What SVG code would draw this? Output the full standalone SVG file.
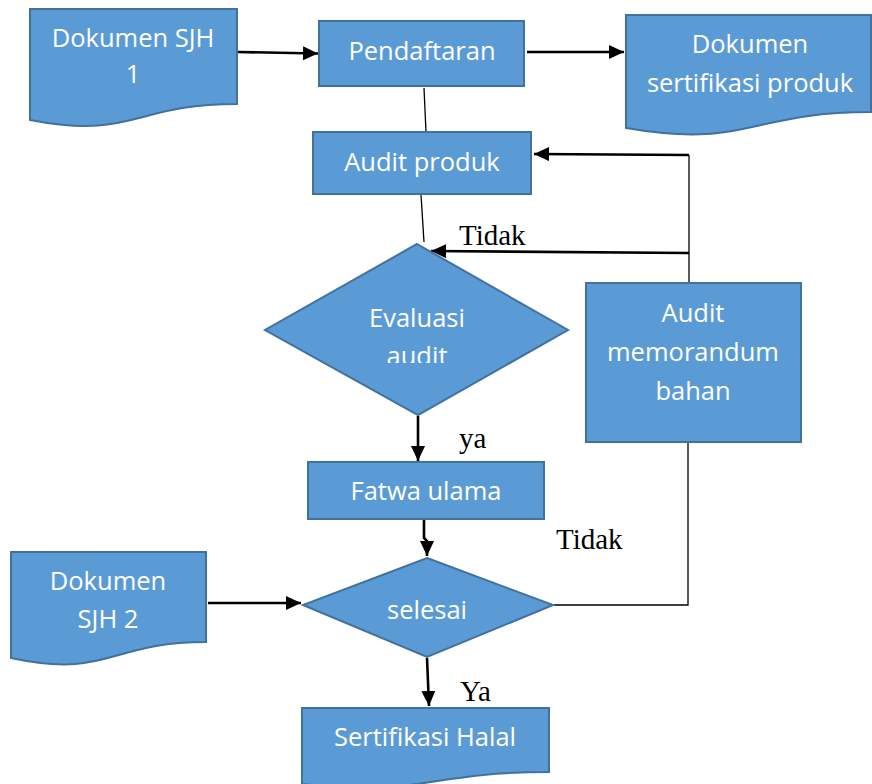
<svg xmlns="http://www.w3.org/2000/svg" width="872" height="784" viewBox="0 0 872 784">
<style>
.shape{fill:#5B9BD5;stroke:#41719C;stroke-width:2}
.lbl{font-family:"Open Sans","Noto Sans","Liberation Sans",sans-serif;font-size:25.5px;fill:#FFFFFF;text-anchor:middle}
.note{font-family:"Liberation Serif","Times New Roman",serif;font-size:29px;fill:#000000}
.thick{fill:none;stroke:#000000;stroke-width:2.6}
.thin{fill:none;stroke:#000000;stroke-width:1.3}
</style>
<defs>
<marker id="arrow" markerUnits="userSpaceOnUse" markerWidth="16" markerHeight="14" refX="15" refY="7" orient="auto">
<path d="M0,0 L15,7 L0,14 Z" fill="#000000"/>
</marker>
<clipPath id="clipAudit"><rect x="250" y="230" width="340" height="133"/></clipPath>
</defs>
<rect width="872" height="784" fill="#FFFFFF"/>

<g id="connectors">
<path class="thick" d="M238,52 L318,53.5" marker-end="url(#arrow)"/>
<path class="thick" d="M527,52 L624,52" marker-end="url(#arrow)"/>
<path class="thin" d="M424,88 L426,132"/>
<path class="thin" d="M421,195 L424,242"/>
<path class="thin" d="M689,155 L689,283"/>
<path class="thick" d="M689,155 L534,154" marker-end="url(#arrow)"/>
<path class="thick" d="M689,253 L431,251" marker-end="url(#arrow)"/>
<path class="thick" d="M418,416 L418,461" marker-end="url(#arrow)"/>
<path class="thick" d="M424,520 L424,538 L427,541 L427,556" marker-end="url(#arrow)"/>
<path class="thick" d="M208,603 L301,603" marker-end="url(#arrow)"/>
<path class="thick" d="M427,658 L429,706" marker-end="url(#arrow)"/>
<path class="thin" d="M688,443 L688,605 L554,605"/>
</g>

<g id="labels">
<text class="note" x="459" y="245">Tidak</text>
<text class="note" x="459" y="448">ya</text>
<text class="note" x="556" y="549">Tidak</text>
<text class="note" x="460" y="701">Ya</text>
</g>

<g id="dokumen-sjh-1">
<path class="shape" d="M30,9 H237 V104 C133.5,104 133.5,140 30,120 Z"/>
<text class="lbl" x="133" y="47">Dokumen SJH</text>
<text class="lbl" x="133" y="83">1</text>
</g>

<g id="pendaftaran">
<rect class="shape" x="319" y="21" width="205" height="65"/>
<text class="lbl" x="422" y="60">Pendaftaran</text>
</g>

<g id="dokumen-sertifikasi">
<path class="shape" d="M626,15 H871 V112 C748.5,112 748.5,149 626,128 Z"/>
<text class="lbl" x="750" y="53">Dokumen</text>
<text class="lbl" x="750" y="92">sertifikasi produk</text>
</g>

<g id="audit-produk">
<rect class="shape" x="313" y="132" width="218" height="62"/>
<text class="lbl" x="422" y="171">Audit produk</text>
</g>

<g id="evaluasi-audit">
<path class="shape" d="M417,244 L568,330 L418,415 L265,330 Z"/>
<text class="lbl" x="417" y="327">Evaluasi</text>
<text class="lbl" x="417" y="365" clip-path="url(#clipAudit)">audit</text>
</g>

<g id="audit-memorandum">
<rect class="shape" x="586" y="283" width="215" height="159"/>
<text class="lbl" x="693" y="322">Audit</text>
<text class="lbl" x="693" y="361">memorandum</text>
<text class="lbl" x="693" y="400">bahan</text>
</g>

<g id="fatwa-ulama">
<rect class="shape" x="308" y="462" width="236" height="57"/>
<text class="lbl" x="426" y="500">Fatwa ulama</text>
</g>

<g id="dokumen-sjh-2">
<path class="shape" d="M11,552 H206 V642 C108.5,642 108.5,679 11,658 Z"/>
<text class="lbl" x="108" y="590">Dokumen</text>
<text class="lbl" x="108" y="628">SJH 2</text>
</g>

<g id="selesai">
<path class="shape" d="M427,558 L553,605 L427,657 L303,605 Z"/>
<text class="lbl" x="427" y="619">selesai</text>
</g>

<g id="sertifikasi-halal">
<path class="shape" d="M302,708 H549 V772 C425.5,772 425.5,797 302,784 Z"/>
<text class="lbl" x="425" y="746">Sertifikasi Halal</text>
</g>
</svg>
